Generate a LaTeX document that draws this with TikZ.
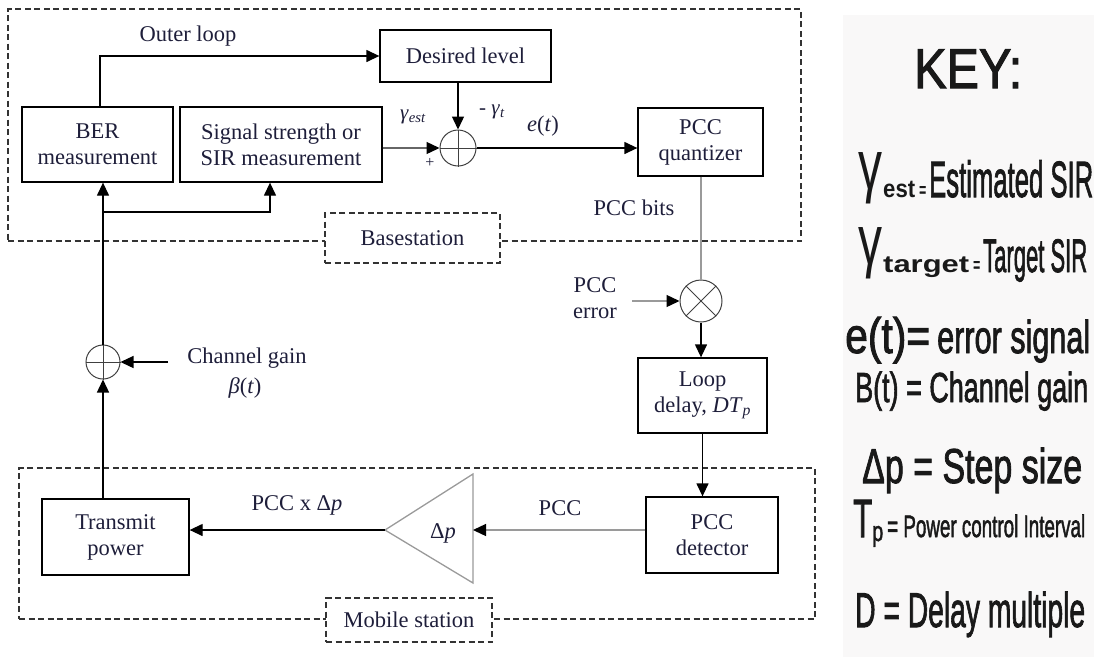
\documentclass[tikz,border=0pt]{standalone}
\usepackage{fontspec}
\usepackage{graphicx}
\setmainfont{Liberation Serif}
\newfontfamily\keyfont[BoldFont={Liberation Sans},BoldFeatures={FakeBold=2}]{Liberation Sans}
\newfontfamily\keyfontb{Liberation Sans Bold}
\usetikzlibrary{arrows.meta,calc}
\definecolor{txt}{HTML}{1E1E3A}
\definecolor{keybg}{HTML}{F9F8F8}
\definecolor{lgray}{HTML}{9A9A9A}
\definecolor{dgray}{HTML}{666666}
\newcommand{\kx}[2]{\resizebox{#1}{\height}{#2}}
\newcommand{\fs}[1]{\fontsize{#1}{#1}\selectfont}
\tikzset{
  every node/.style={text=txt, font=\fontsize{22.5}{26}\selectfont},
  box/.style={draw=black, line width=1.3pt, align=center, inner sep=0pt},
  circ/.style={circle, draw=black!75, line width=1pt, inner sep=0pt},
  dsh/.style={draw=black!80, line width=1.1pt, dash pattern=on 6pt off 3.5pt},
  ar/.style={-{Triangle[length=13pt,width=12pt,color=black]}, line width=1.3pt, draw=black},
  lab/.style={anchor=base, inner sep=0pt},
}
\begin{document}
\begin{tikzpicture}[x=1pt,y=-1pt]
\useasboundingbox (0,0) rectangle (1094,667);

% key background
\fill[keybg] (843,15) rectangle (1094,657);

% dashed frames
\node[dsh, minimum width=793pt, minimum height=232pt, inner sep=0pt] (bs) at (404.5,125) {};
\node[dsh, minimum width=796pt, minimum height=151pt, inner sep=0pt] (ms) at (417,543.5) {};

% blocks
\node[box, minimum width=151pt, minimum height=75pt] (ber) at (97.5,144.5) {BER\\measurement};
\node[box, minimum width=202pt, minimum height=75pt] (sig) at (281,144.5) {Signal strength or\\SIR measurement};
\node[box, minimum width=171pt, minimum height=52pt] (des) at (465.5,56) {Desired level};
\node[circ, minimum size=36pt] (sum) at (458,148) {};
\draw[black!75, line width=0.8pt] (sum.north) -- (sum.south) (sum.west) -- (sum.east);
\node[box, minimum width=125pt, minimum height=68pt] (quant) at (700.5,142) {PCC\\quantizer};
\node[circ, minimum size=42pt] (mult) at (701,301) {};
\draw[black!75, line width=0.8pt] (mult.north west) -- (mult.south east) (mult.north east) -- (mult.south west);
\node[box, minimum width=129pt, minimum height=75pt] (delay) at (702.5,395.5) {Loop\\delay, \textit{DT}\textsubscript{\textit{p}}};
\node[box, minimum width=132pt, minimum height=76pt] (det) at (712,535) {PCC\\detector};
\node[box, minimum width=147pt, minimum height=76pt] (tx) at (115.5,537) {Transmit\\power};
\node[circ, minimum size=34pt] (sum2) at (103,362) {};
\draw[black!75, line width=0.8pt] (sum2.north) -- (sum2.south) (sum2.west) -- (sum2.east);

% amplifier triangle
\coordinate (tritip) at (385,530);
\coordinate (triback) at (473,530);
\draw[lgray, line width=1.3pt, line join=miter] (tritip) -- (473,474) -- (473,583) -- cycle;
\node[lab] (dp) at (443,538) {Δ\textit{p}};

% label frames
\node[dsh, fill=white, minimum width=175pt, minimum height=50pt, inner sep=0pt] (bslab) at (412.5,238) {Basestation};
\node[dsh, fill=white, minimum width=166pt, minimum height=44pt, inner sep=0pt] (mslab) at (409,620) {Mobile station};

% connectors
\draw[ar] ([xshift=2.5pt]ber.north) |- (des.west);
\draw[ar] (sum.north |- des.south) -- (sum.north);
\draw[ar, draw=dgray] (sig.east |- sum.west) -- (sum.west);
\draw[ar] (sum.east) -- (sum.east -| quant.west);
\draw[lgray, line width=1.3pt] (mult.north |- quant.south) -- (mult.north);
\coordinate (pe) at (632,301);
\draw[ar, draw=lgray] (pe) -- (mult.west);
\draw[ar] (mult.south) -- (mult.south |- delay.north);
\draw[ar] (delay.south) -- (delay.south |- det.north);
\draw[ar, draw=lgray] (det.west |- triback) -- (triback);
\draw[ar] (tritip) -- (tritip -| tx.east);
\draw[ar] (sum2.south |- tx.north) -- (sum2.south);
\coordinate (cg) at (168,362);
\draw[ar] (cg) -- (sum2.east);
\draw[ar] (sum2.north) -- (sum2.north |- ber.south);
\coordinate (br) at (103,212);
\coordinate (br2) at (270,212);
\draw[ar] (br) -- (br2) -- (br2 |- sig.south);

% labels
\node[lab] (lol) at (188,41) {Outer loop};
\node[lab, font=\fontsize{21}{21}\selectfont] (lgest) at (413,119) {\textit{γ}\textsubscript{\textit{est}}};
\node[font=\fontsize{16}{16}\selectfont, inner sep=0pt] (lplus) at (430,163) {+};
\node[lab, font=\fontsize{21}{21}\selectfont] (lgt) at (492,114) {- \textit{γ}\textsubscript{\textit{t}}};
\node[lab] (let) at (543,131) {\textit{e}(\textit{t})};
\node[lab] (lbits) at (634,215) {PCC bits};
\node[align=center, inner sep=0pt] (lerr) at (595,298.5) {PCC\\error};
\node[lab] (lcg) at (247,363) {Channel gain};
\node[lab] (lbeta) at (245,393) {\textit{β}(\textit{t})};
\node[lab] (lpccdp) at (297,510) {PCC x Δ\textit{p}};
\node[lab] (lpcc) at (560,515) {PCC};

% key
\begin{scope}[every node/.style={text=black!90, inner sep=0pt, anchor=base west, font=\keyfont\bfseries}]
\node (k0) at (914,88) {\kx{108pt}{\fs{56}KEY:}};
\node (k1) at (858,197) {\raisebox{8pt}{\kx{24pt}{\fs{70}\mdseries γ}}\hspace{1pt}\kx{32pt}{\fs{25}\keyfontb est}\hspace{4pt}\kx{7pt}{\fs{22}=}\hspace{3pt}\kx{164pt}{\fs{51}Estimated SIR}};
\node (k2) at (858,272) {\raisebox{8pt}{\kx{24pt}{\fs{70}\mdseries γ}}\hspace{1pt}\kx{86pt}{\fs{24}\keyfontb target}\hspace{4pt}\kx{7pt}{\fs{22}=}\hspace{3pt}\kx{104pt}{\fs{47}Target SIR}};
\node (k3) at (845,353) {\kx{85pt}{\fs{50}e(t)=}\hspace{7pt}\kx{153pt}{\fs{46}error signal}};
\node (k4) at (855,402) {\kx{233pt}{\fs{42}B(t) = Channel gain}};
\node (k5) at (862,483) {\kx{220pt}{\fs{49}Δp = Step size}};
\node (k6) at (853,537) {\kx{19pt}{\fs{54}T}\raisebox{-4pt}{\kx{11pt}{\fs{28}p}}\hspace{4pt}\kx{198pt}{\fs{31}= Power control Interval}};
\node (k7) at (855,627) {\kx{230pt}{\fs{49}D = Delay multiple}};
\end{scope}
\end{tikzpicture}
\end{document}
